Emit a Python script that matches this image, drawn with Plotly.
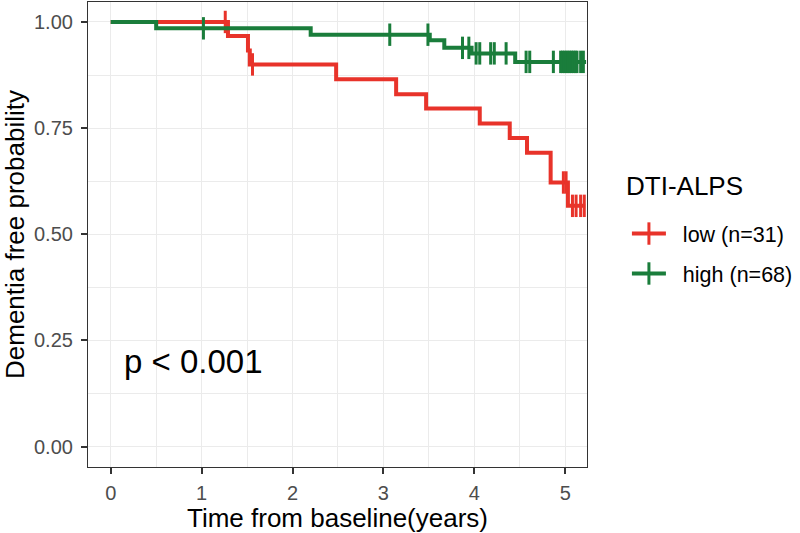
import numpy as np
import plotly.graph_objects as go

# ---- data ----
low_times = [0, 1.29, 1.51, 1.53, 2.48, 3.14, 3.47, 4.06, 4.39, 4.58, 4.84, 5.03, 5.22]
low_surv = [1.0, 0.967, 0.933, 0.900, 0.865, 0.830, 0.796, 0.761, 0.727, 0.692, 0.622, 0.567, 0.567]
low_censor = [1.26, 1.56, 4.98, 5.01, 5.08, 5.12, 5.17, 5.21]

high_times = [0, 0.50, 2.20, 3.51, 3.67, 3.97, 4.45, 5.23]
high_surv = [1.0, 0.985, 0.970, 0.957, 0.939, 0.926, 0.906, 0.906]
high_censor = [1.02, 3.07, 3.49, 3.87, 3.94, 4.02, 4.06, 4.18, 4.22, 4.35, 4.57, 4.61,
               4.87, 4.95, 4.97, 4.99, 5.01, 5.03, 5.05, 5.07, 5.09, 5.11, 5.13, 5.17, 5.20]

group_names = ["low (n=31)", "high (n=68)"]
group_colors = ["#E8332A", "#1A7D3B"]
legend_title = "DTI-ALPS"
x_title = "Time from baseline(years)"
y_title = "Dementia free probability"
p_text = "p < 0.001"
x_ticks = [0, 1, 2, 3, 4, 5]
y_ticks = [0.0, 0.25, 0.5, 0.75, 1.0]
y_ticklabels = ["0.00", "0.25", "0.50", "0.75", "1.00"]

FONT = "Liberation Sans, Arial, sans-serif"


def step_value(times, surv, t):
    idx = np.searchsorted(np.array(times), t, side="right") - 1
    return surv[max(idx, 0)]


fig = go.Figure()
groups = [(low_times, low_surv, low_censor), (high_times, high_surv, high_censor)]
for (t, s, c), name, col in zip(groups, group_names, group_colors):
    fig.add_trace(go.Scatter(x=t, y=s, mode="lines", line=dict(color=col, width=4, shape="hv"),
                             showlegend=False, hoverinfo="skip"))
    cy = [step_value(t, s, ci) for ci in c]
    fig.add_trace(go.Scatter(x=c, y=cy, mode="markers",
                             marker=dict(symbol="line-ns", size=16, color=col,
                                         line=dict(color=col, width=3)),
                             showlegend=False, hoverinfo="skip"))
    # legend entry
    fig.add_trace(go.Scatter(x=[None], y=[None], mode="lines+markers",
                             name="\u00a0\u00a0" + name, legendgroup=name,
                             line=dict(color=col, width=4),
                             marker=dict(symbol="line-ns", size=16, color=col,
                                         line=dict(color=col, width=3))))

fig.add_annotation(x=0.12, y=0.2, xref="x", yref="y", text=p_text, showarrow=False,
                   xanchor="left", yanchor="middle", font=dict(size=33, color="black", family=FONT))

# legend title as annotation for precise spacing
fig.add_annotation(x=1.083, y=0.605, xref="paper", yref="paper", text=legend_title,
                   showarrow=False, xanchor="left", yanchor="middle", xshift=-4,
                   font=dict(size=26, color="black", family=FONT))

grid = "#EBEBEB"
fig.update_layout(
    width=800, height=533,
    margin=dict(l=88, r=208, t=2, b=66),
    paper_bgcolor="white", plot_bgcolor="white",
    font=dict(family=FONT, color="black"),
    legend=dict(font=dict(size=21.5, color="black"),
                x=1.08, xanchor="left", y=0.459, yanchor="middle",
                itemwidth=34, traceorder="grouped", tracegroupgap=9),
    xaxis=dict(range=[-0.25, 5.24], tickvals=x_ticks, ticks="outside", ticklen=6, tickwidth=2,
               tickcolor="#333333", tickfont=dict(size=20, color="#4D4D4D"), ticklabelstandoff=2,
               showline=True, mirror=True, linecolor="#333333", linewidth=1.2,
               showgrid=True, gridcolor=grid, gridwidth=1.3, zeroline=False,
               minor=dict(dtick=0.5, tick0=0.5, showgrid=True, gridcolor=grid, gridwidth=0.8, ticks=""),
               title=dict(text=x_title, font=dict(size=26, color="black"), standoff=3)),
    yaxis=dict(range=[-0.048, 1.047], tickvals=y_ticks, ticktext=y_ticklabels, ticks="outside",
               ticklen=6, tickwidth=2, tickcolor="#333333", tickfont=dict(size=20, color="#4D4D4D"),
               ticklabelstandoff=4,
               showline=True, mirror=True, linecolor="#333333", linewidth=1.2,
               showgrid=True, gridcolor=grid, gridwidth=1.3, zeroline=False,
               minor=dict(dtick=0.125, tick0=0.125, showgrid=True, gridcolor=grid, gridwidth=0.8, ticks=""),
               title=dict(text=y_title, font=dict(size=26, color="black"), standoff=4)),
)

fig.write_html("out.html", config={"displayModeBar": False},
               post_script="document.body.style.margin='0px';")
